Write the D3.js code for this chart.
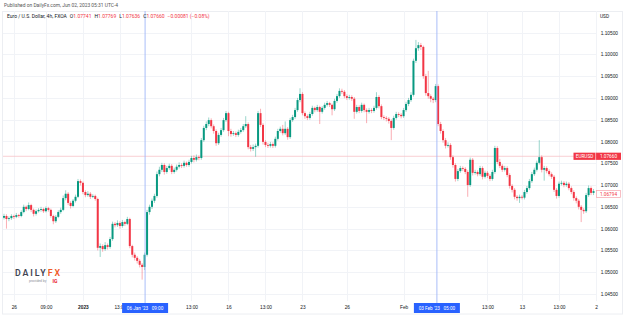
<!DOCTYPE html>
<html lang="en">
<head>
<meta charset="utf-8">
<title>EUR/USD 4h</title>
<script src="https://cdnjs.cloudflare.com/ajax/libs/d3/7.8.5/d3.min.js"></script>
<style>
  body { margin: 0; background: #fff; }
  svg { display: block; font-family: Roboto, "Noto Sans", sans-serif; }
  .axis text { font-size: 4.8px; fill: #131722; }
  .axis path, .axis line { display: none; }
</style>
</head>
<body>
<div id="chart"></div>
<script>
// 4h candles
var opens = [
  1.0625,1.0629,1.0622,1.0624,1.0629,1.0627,1.0631,1.0629,1.0638,1.0650,
  1.0645,1.0654,1.0643,1.0634,1.0640,1.0643,1.0645,1.0640,1.0647,1.0643,
  1.0629,1.0617,1.0627,1.0638,1.0643,1.0670,1.0680,1.0659,1.0652,1.0664,
  1.0673,1.0709,1.0705,1.0684,1.0677,1.0680,1.0673,1.0675,1.0668,1.0556,
  1.0560,1.0553,1.0562,1.0558,1.0576,1.0611,1.0608,1.0613,1.0606,1.0615,
  1.0611,1.0622,1.0560,1.0540,1.0533,1.0526,1.0517,1.0512,1.0540,1.0638,
  1.0650,1.0664,1.0675,1.0725,1.0735,1.0746,1.0730,1.0739,1.0744,1.0730,
  1.0735,1.0742,1.0746,1.0744,1.0751,1.0746,1.0753,1.0762,1.0758,1.0764,
  1.0762,1.0803,1.0831,1.0840,1.0849,1.0835,1.0824,1.0796,1.0815,1.0826,
  1.0849,1.0865,1.0824,1.0817,1.0819,1.0815,1.0822,1.0826,1.0835,1.0840,
  1.0787,1.0783,1.0787,1.0790,1.0865,1.0838,1.0799,1.0792,1.0790,1.0794,
  1.0790,1.0806,1.0824,1.0829,1.0819,1.0829,1.0810,1.0849,1.0856,1.0872,
  1.0895,1.0909,1.0865,1.0858,1.0854,1.0863,1.0877,1.0872,1.0879,1.0868,
  1.0877,1.0884,1.0888,1.0884,1.0874,1.0893,1.0904,1.0916,1.0914,1.0904,
  1.0900,1.0902,1.0898,1.0868,1.0879,1.0870,1.0884,1.0872,1.0868,1.0872,
  1.0870,1.0877,1.0902,1.0881,1.0856,1.0854,1.0852,1.0847,1.0831,1.0854,
  1.0863,1.0861,1.0858,1.0872,1.0886,1.0895,1.0907,1.0985,1.1014,1.1021,
  1.1017,1.0950,1.0911,1.0904,1.0898,1.0895,1.0927,1.0840,1.0824,1.0803,
  1.0790,1.0792,1.0764,1.0746,1.0714,1.0732,1.0739,1.0737,1.0730,1.0700,
  1.0758,1.0728,1.0730,1.0725,1.0739,1.0719,1.0728,1.0721,1.0714,1.0730,
  1.0785,1.0753,1.0744,1.0735,1.0739,1.0723,1.0698,1.0689,1.0673,1.0670,
  1.0673,1.0671,1.0684,1.0693,1.0709,1.0725,1.0735,1.0751,1.0764,1.0735,
  1.0739,1.0732,1.0725,1.0719,1.0689,1.0675,1.0703,1.0705,1.0700,1.0703,
  1.0693,1.0684,1.0670,1.0664,1.0650,1.0643,1.0640,1.0677,1.0693,1.0682
];
var highs = [
  1.0634,1.0633,1.0628,1.0633,1.0632,1.0636,1.0634,1.0642,1.0655,1.0653,
  1.0660,1.0657,1.0646,1.0644,1.0647,1.0650,1.0648,1.0651,1.0650,1.0646,
  1.0632,1.0631,1.0642,1.0648,1.0676,1.0688,1.0684,1.0663,1.0668,1.0678,
  1.0714,1.0713,1.0708,1.0688,1.0686,1.0684,1.0679,1.0678,1.0671,1.0566,
  1.0564,1.0569,1.0566,1.0581,1.0616,1.0615,1.0619,1.0617,1.0620,1.0618,
  1.0627,1.0625,1.0563,1.0545,1.0537,1.0530,1.0521,1.0545,1.0643,1.0655,
  1.0669,1.0680,1.0731,1.0742,1.0751,1.0750,1.0744,1.0749,1.0748,1.0740,
  1.0747,1.0752,1.0750,1.0756,1.0754,1.0758,1.0767,1.0768,1.0770,1.0768,
  1.0808,1.0836,1.0846,1.0855,1.0853,1.0839,1.0828,1.0820,1.0831,1.0854,
  1.0870,1.0868,1.0829,1.0824,1.0823,1.0827,1.0831,1.0840,1.0858,1.0844,
  1.0792,1.0793,1.0795,1.0870,1.0875,1.0842,1.0803,1.0797,1.0799,1.0798,
  1.0811,1.0829,1.0834,1.0838,1.0846,1.0833,1.0854,1.0861,1.0877,1.0900,
  1.0922,1.0913,1.0869,1.0862,1.0868,1.0882,1.0880,1.0884,1.0882,1.0881,
  1.0889,1.0893,1.0891,1.0887,1.0898,1.0909,1.0922,1.0921,1.0918,1.0908,
  1.0907,1.0906,1.0902,1.0884,1.0883,1.0889,1.0887,1.0876,1.0877,1.0876,
  1.0882,1.0913,1.0906,1.0885,1.0860,1.0858,1.0856,1.0851,1.0859,1.0868,
  1.0867,1.0865,1.0877,1.0891,1.0900,1.0913,1.0990,1.1033,1.1028,1.1026,
  1.1020,1.0955,1.0962,1.0908,1.0902,1.0932,1.0931,1.0845,1.0828,1.0808,
  1.0798,1.0796,1.0768,1.0750,1.0737,1.0744,1.0743,1.0741,1.0734,1.0763,
  1.0762,1.0735,1.0734,1.0744,1.0743,1.0733,1.0732,1.0725,1.0735,1.0790,
  1.0789,1.0760,1.0748,1.0744,1.0743,1.0727,1.0702,1.0693,1.0677,1.0678,
  1.0677,1.0689,1.0698,1.0714,1.0730,1.0740,1.0756,1.0803,1.0768,1.0744,
  1.0743,1.0736,1.0729,1.0723,1.0693,1.0708,1.0710,1.0709,1.0708,1.0707,
  1.0697,1.0688,1.0674,1.0668,1.0654,1.0647,1.0682,1.0699,1.0697,1.0691
];
var lows = [
  1.0621,1.0600,1.0617,1.0620,1.0622,1.0624,1.0625,1.0626,1.0635,1.0640,
  1.0642,1.0638,1.0628,1.0630,1.0637,1.0639,1.0636,1.0637,1.0639,1.0625,
  1.0610,1.0613,1.0624,1.0634,1.0640,1.0665,1.0654,1.0646,1.0649,1.0660,
  1.0670,1.0699,1.0679,1.0672,1.0673,1.0668,1.0670,1.0664,1.0550,1.0535,
  1.0547,1.0549,1.0552,1.0554,1.0572,1.0603,1.0604,1.0600,1.0602,1.0606,
  1.0608,1.0555,1.0534,1.0527,1.0520,1.0511,1.0483,1.0505,1.0536,1.0632,
  1.0645,1.0659,1.0671,1.0720,1.0730,1.0724,1.0726,1.0735,1.0725,1.0726,
  1.0731,1.0738,1.0739,1.0740,1.0742,1.0742,1.0749,1.0752,1.0754,1.0757,
  1.0758,1.0799,1.0826,1.0835,1.0830,1.0818,1.0790,1.0792,1.0811,1.0822,
  1.0845,1.0812,1.0811,1.0813,1.0810,1.0811,1.0818,1.0822,1.0831,1.0782,
  1.0777,1.0778,1.0765,1.0786,1.0833,1.0793,1.0787,1.0785,1.0786,1.0785,
  1.0786,1.0802,1.0820,1.0814,1.0815,1.0804,1.0806,1.0845,1.0852,1.0868,
  1.0890,1.0860,1.0852,1.0849,1.0850,1.0859,1.0867,1.0868,1.0840,1.0864,
  1.0873,1.0880,1.0879,1.0860,1.0870,1.0889,1.0900,1.0909,1.0899,1.0895,
  1.0896,1.0893,1.0852,1.0864,1.0865,1.0866,1.0867,1.0842,1.0864,1.0865,
  1.0866,1.0873,1.0876,1.0851,1.0849,1.0846,1.0841,1.0803,1.0827,1.0850,
  1.0856,1.0853,1.0854,1.0868,1.0881,1.0891,1.0903,1.0980,1.1008,1.1010,
  1.0944,1.0905,1.0898,1.0890,1.0888,1.0890,1.0835,1.0818,1.0797,1.0784,
  1.0786,1.0758,1.0740,1.0708,1.0709,1.0728,1.0732,1.0725,1.0673,1.0696,
  1.0722,1.0724,1.0720,1.0721,1.0713,1.0715,1.0716,1.0709,1.0710,1.0726,
  1.0748,1.0739,1.0730,1.0731,1.0718,1.0692,1.0683,1.0667,1.0664,1.0659,
  1.0667,1.0667,1.0680,1.0689,1.0705,1.0721,1.0731,1.0747,1.0729,1.0710,
  1.0727,1.0720,1.0714,1.0684,1.0669,1.0671,1.0699,1.0695,1.0696,1.0688,
  1.0679,1.0664,1.0658,1.0644,1.0615,1.0634,1.0636,1.0673,1.0677,1.0677
];
var closes = [
  1.0629,1.0622,1.0624,1.0629,1.0627,1.0631,1.0629,1.0638,1.0650,1.0645,
  1.0654,1.0643,1.0634,1.0640,1.0643,1.0645,1.0640,1.0647,1.0643,1.0629,
  1.0617,1.0627,1.0638,1.0643,1.0670,1.0680,1.0659,1.0652,1.0664,1.0673,
  1.0709,1.0705,1.0684,1.0677,1.0680,1.0673,1.0675,1.0668,1.0556,1.0560,
  1.0553,1.0562,1.0558,1.0576,1.0611,1.0608,1.0613,1.0606,1.0615,1.0611,
  1.0622,1.0560,1.0540,1.0533,1.0526,1.0517,1.0512,1.0540,1.0638,1.0650,
  1.0664,1.0675,1.0725,1.0735,1.0746,1.0730,1.0739,1.0744,1.0730,1.0735,
  1.0742,1.0746,1.0744,1.0751,1.0746,1.0753,1.0762,1.0758,1.0764,1.0762,
  1.0803,1.0831,1.0840,1.0849,1.0835,1.0824,1.0796,1.0815,1.0826,1.0849,
  1.0865,1.0824,1.0817,1.0819,1.0815,1.0822,1.0826,1.0835,1.0840,1.0787,
  1.0783,1.0787,1.0790,1.0865,1.0838,1.0799,1.0792,1.0790,1.0794,1.0790,
  1.0806,1.0824,1.0829,1.0819,1.0829,1.0810,1.0849,1.0856,1.0872,1.0895,
  1.0909,1.0865,1.0858,1.0854,1.0863,1.0877,1.0872,1.0879,1.0868,1.0877,
  1.0884,1.0888,1.0884,1.0874,1.0893,1.0904,1.0916,1.0914,1.0904,1.0900,
  1.0902,1.0898,1.0868,1.0879,1.0870,1.0884,1.0872,1.0868,1.0872,1.0870,
  1.0877,1.0902,1.0881,1.0856,1.0854,1.0852,1.0847,1.0831,1.0854,1.0863,
  1.0861,1.0858,1.0872,1.0886,1.0895,1.0907,1.0985,1.1014,1.1021,1.1017,
  1.0950,1.0911,1.0904,1.0898,1.0895,1.0927,1.0840,1.0824,1.0803,1.0790,
  1.0792,1.0764,1.0746,1.0714,1.0732,1.0739,1.0737,1.0730,1.0700,1.0758,
  1.0728,1.0730,1.0725,1.0739,1.0719,1.0728,1.0721,1.0714,1.0730,1.0785,
  1.0753,1.0744,1.0735,1.0739,1.0723,1.0698,1.0689,1.0673,1.0670,1.0673,
  1.0671,1.0684,1.0693,1.0709,1.0725,1.0735,1.0751,1.0764,1.0735,1.0739,
  1.0732,1.0725,1.0719,1.0689,1.0675,1.0703,1.0705,1.0700,1.0703,1.0693,
  1.0684,1.0670,1.0664,1.0650,1.0643,1.0640,1.0677,1.0693,1.0682,1.0686
];

var priceTicks = [1.045, 1.050, 1.055, 1.060, 1.065, 1.070, 1.075, 1.080, 1.085, 1.090, 1.095, 1.100, 1.105];
var timeLabels = ["26", "09:00", "2023", "13:00", "13:00", "16", "13:00", "23", "26", "Feb", "13:00", "13", "13:00", "2"];
var timeIndex  = [4, 17, 32, 47, 76, 91, 106, 121, 139, 162, 196, 210, 225, 240];
var crossIndex  = [57.2, 175.5];
var crossLabels = ["06 Jan '23   09:00", "03 Feb '23   05:00"];
var legendKeys   = ["O", "H", "L", "C"];
var legendValues = ["1.07741", "1.07769", "1.07636", "1.07660"];
var legendChange = "\u22120.00081 (\u22120.08%)";
var lastPrice = 1.07660;
var markerPrice = 1.06794;

var width = 625, height = 319;
var plotLeft = 3, plotRight = 596, plotTop = 11, plotBottom = 301;
var up = "#089981", down = "#f23645";

var svg = d3.select("#chart").append("svg")
    .attr("width", width)
    .attr("height", height);

var x = d3.scaleLinear().domain([0, 240]).range([4, 596]);
var y = d3.scaleLinear().domain([1.045, 1.105]).range([294, 32.5]);

// header line
svg.append("text")
    .attr("x", 4).attr("y", 6.9)
    .style("font-size", "4.9px").attr("fill", "#555")
    .text("Published on DailyFx.com, Jun 02, 2023 05:31 UTC-4");

// panel frame
svg.append("rect")
    .attr("x", 2.5).attr("y", 11.5).attr("width", 620).attr("height", 302.5)
    .attr("fill", "none").attr("stroke", "#eceef2");

// grid
svg.append("g").selectAll("line").data(priceTicks).enter().append("line")
    .attr("x1", plotLeft).attr("x2", plotRight)
    .attr("y1", function(d) { return Math.round(y(d)) + 0.5; })
    .attr("y2", function(d) { return Math.round(y(d)) + 0.5; })
    .attr("stroke", "#f1f3f7");
svg.append("g").selectAll("line").data(timeIndex).enter().append("line")
    .attr("x1", function(d) { return Math.round(x(d)) + 0.5; })
    .attr("x2", function(d) { return Math.round(x(d)) + 0.5; })
    .attr("y1", plotTop).attr("y2", plotBottom)
    .attr("stroke", "#f1f3f7");

// price axis
var yAxis = d3.axisRight(y).tickValues(priceTicks).tickFormat(d3.format(".5f")).tickSize(0).tickPadding(0);
var yg = svg.append("g").attr("class", "axis").attr("transform", "translate(618,0)").call(yAxis);
yg.selectAll("text").attr("text-anchor", "end").attr("x", 0);
svg.append("text").attr("x", 600).attr("y", 17.5)
    .style("font-size", "4.8px").attr("fill", "#131722").text("USD");

// time axis
var xAxis = d3.axisBottom(x).tickValues(timeIndex)
    .tickFormat(function(d, i) { return timeLabels[i]; })
    .tickSize(0).tickPadding(0);
var xg = svg.append("g").attr("class", "axis").attr("transform", "translate(0,306)").call(xAxis);
xg.selectAll("text").style("font-weight", function(d, i) { return timeLabels[i] === "2023" ? "bold" : null; });

// last price line
svg.append("line")
    .attr("x1", plotLeft).attr("x2", plotRight)
    .attr("y1", y(lastPrice)).attr("y2", y(lastPrice))
    .attr("stroke", "#f7c3c8").attr("stroke-width", 0.8);

// candles
var idx = d3.range(closes.length);
var candles = svg.append("g");
candles.selectAll("line").data(idx).enter().append("line")
    .attr("x1", function(i) { return x(i); })
    .attr("x2", function(i) { return x(i); })
    .attr("y1", function(i) { return y(highs[i]); })
    .attr("y2", function(i) { return y(lows[i]); })
    .attr("stroke", function(i) { return closes[i] >= opens[i] ? up : down; })
    .attr("stroke-opacity", 0.45)
    .attr("stroke-width", 0.9);
candles.selectAll("rect").data(idx).enter().append("rect")
    .attr("x", function(i) { return x(i) - 1; })
    .attr("width", 2)
    .attr("y", function(i) { return y(Math.max(opens[i], closes[i])); })
    .attr("height", function(i) { return Math.max(0.7, Math.abs(y(opens[i]) - y(closes[i]))); })
    .attr("fill", function(i) { return closes[i] >= opens[i] ? up : down; });

// crosshair markers
var cross = svg.append("g").selectAll("g").data(crossIndex).enter().append("g");
cross.append("line")
    .attr("x1", function(d) { return x(d); }).attr("x2", function(d) { return x(d); })
    .attr("y1", plotTop).attr("y2", 303)
    .attr("stroke", "#9fb7f8").attr("stroke-width", 0.9);
cross.append("rect")
    .attr("x", function(d) { return x(d) - 23; }).attr("y", 303)
    .attr("width", 46).attr("height", 10)
    .attr("fill", "#2962ff");
cross.append("text")
    .attr("x", function(d) { return x(d); }).attr("y", 309.8)
    .attr("text-anchor", "middle")
    .style("font-size", "4.7px").style("white-space", "pre").attr("fill", "#fff")
    .text(function(d, i) { return crossLabels[i]; });

// price labels on the axis
var ly = y(lastPrice);
svg.append("rect").attr("x", 573.5).attr("y", ly - 3.6).attr("width", 22).attr("height", 7.2).attr("fill", down);
svg.append("rect").attr("x", 596).attr("y", ly - 3.6).attr("width", 25).attr("height", 7.2).attr("fill", down);
svg.append("line").attr("x1", 595.75).attr("x2", 595.75).attr("y1", ly - 3.6).attr("y2", ly + 3.6).attr("stroke", "#f8a0a8").attr("stroke-width", 0.5);
svg.append("text").attr("x", 584.5).attr("y", ly + 1.7).attr("text-anchor", "middle")
    .style("font-size", "4.7px").attr("fill", "#fff").text("EURUSD");
svg.append("text").attr("x", 608.5).attr("y", ly + 1.7).attr("text-anchor", "middle")
    .style("font-size", "4.7px").attr("fill", "#fff").text(d3.format(".5f")(lastPrice));

var my = y(markerPrice);
svg.append("rect").attr("x", 596.5).attr("y", my - 3.4).attr("width", 24).attr("height", 6.8)
    .attr("fill", "#fff").attr("stroke", "#f5a3ab").attr("stroke-width", 0.7);
svg.append("text").attr("x", 608.5).attr("y", my + 1.7).attr("text-anchor", "middle")
    .style("font-size", "4.7px").attr("fill", down).text(d3.format(".5f")(markerPrice));

// legend line
var legend = svg.append("text").attr("y", 18.4).style("font-size", "5px").attr("fill", "#131722");
legend.append("tspan").attr("x", 7).text("Euro / U.S. Dollar, 4h, FXOA");
legendKeys.forEach(function(k, i) {
    legend.append("tspan").attr("dx", 3).text(k);
    legend.append("tspan").attr("fill", down).text(legendValues[i]);
});
legend.append("tspan").attr("dx", 3).attr("fill", down).text(legendChange);

// DailyFX mark
var logo = svg.append("text").attr("x", 15).attr("y", 276)
    .attr("textLength", 45).attr("lengthAdjust", "spacing")
    .style("font-size", "8.8px").style("font-weight", "600");
logo.append("tspan").attr("fill", "#3f4452").text("DAILY");
logo.append("tspan").attr("fill", "#f05a28").text("FX");
svg.append("text").attr("x", 29).attr("y", 282)
    .style("font-size", "3.4px").attr("fill", "#8a8d96").text("provided by");
svg.append("text").attr("x", 52.5).attr("y", 282.6)
    .style("font-size", "5px").style("font-weight", "bold").attr("fill", "#e8202a").text("IG");
</script>
</body>
</html>
